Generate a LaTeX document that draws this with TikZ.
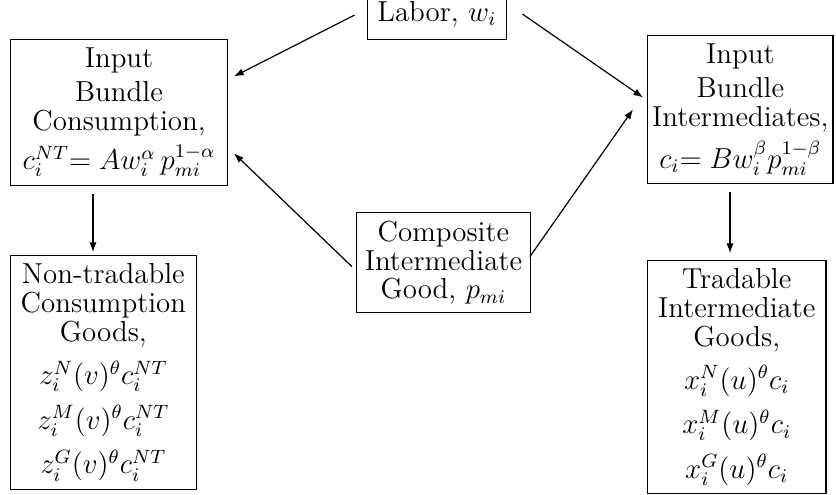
\documentclass[tikz,border=0pt]{standalone}
\usetikzlibrary{arrows.meta,calc}
\begin{document}
\begin{tikzpicture}[x=0.415pt,y=-0.415pt,
  box/.style={draw,line width=0.5pt,align=center,inner sep=3.4pt,
    font=\fontsize{12}{12}\selectfont},
  arr/.style={line width=0.5pt,-{Latex[length=4pt,width=3pt]}}]
\useasboundingbox (0,0) rectangle (836,495);
\node[box,anchor=south,minimum height=21pt,minimum width=58pt] (lab) at (437,40) {Labor, $w_i$};
\node[box,anchor=north west,minimum width=90pt] (ic) at (10,39)
  {Input\\[2pt] Bundle\\ Consumption,\\[3pt] $c_i^{NT}{=}\;Aw_i^{\alpha}\,p_{mi}^{1-\alpha}$};
\node[box,anchor=north west,inner xsep=1.9pt] (ii) at (647,35)
  {Input\\[2pt] Bundle\\ Intermediates,\\[3pt] $c_i{=}\;Bw_i^{\beta}p_{mi}^{1-\beta}$};
\node[box,anchor=north west] (comp) at (356,212)
  {Composite\\ Intermediate\\ Good, $p_{mi}$};
\node[box,anchor=north west,minimum width=77pt] (nt) at (10,255)
  {Non-tradable\\ Consumption\\ Goods,\\[4.6pt] $z_i^N(v)^{\theta}c_i^{NT}$\\[4.6pt] $z_i^M(v)^{\theta}c_i^{NT}$\\[4.6pt] $z_i^G(v)^{\theta}c_i^{NT}$};
\node[box,anchor=north west,minimum width=74pt] (tr) at (647,260)
  {Tradable\\ Intermediate\\ Goods,\\[4.5pt] $x_i^N(u)^{\theta}c_i$\\[4.5pt] $x_i^M(u)^{\theta}c_i$\\[4.5pt] $x_i^G(u)^{\theta}c_i$};
\draw[arr] ($(lab.west)+(-12,1)$) -- ($(ic.east)+(6,-36)$);
\draw[arr] ($(lab.east)+(15,0)$) -- ($(ii.west)+(-4,-12)$);
\draw[arr] ($(comp.west)+(-4,4)$) -- ($(ic.east)+(6,41)$);
\draw[arr] ($(comp.east)+(-1,-6)$) -- ($(ii.west)+(-14,0)$);
\coordinate (a1) at ($(ic.south west)+(83,8)$);
\coordinate (a2) at ($(ii.south west)+(83,8)$);
\draw[arr] (a1) -- ($(a1 |- nt.north)+(0,-3)$);
\draw[arr] (a2) -- ($(a2 |- tr.north)+(0,-7)$);
\end{tikzpicture}
\end{document}
